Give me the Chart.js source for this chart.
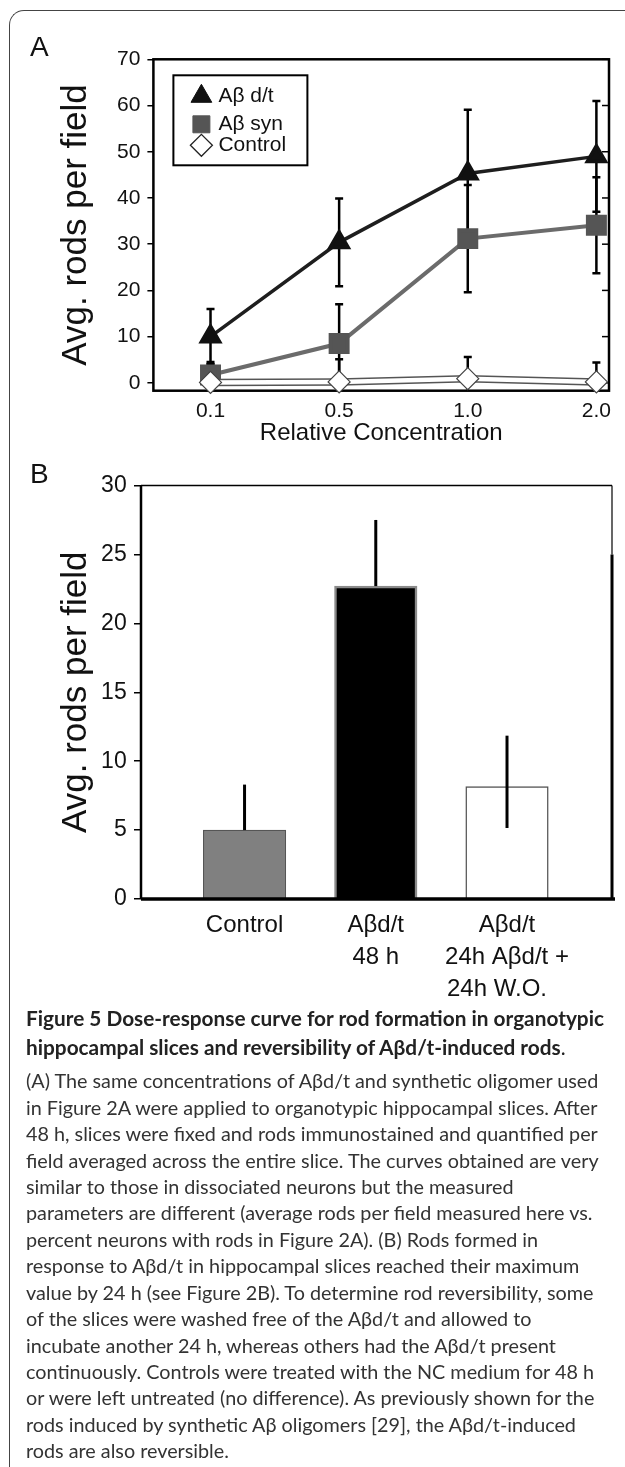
<!DOCTYPE html>
<html>
<head>
<meta charset="utf-8">
<script src="https://cdn.jsdelivr.net/npm/chart.js@4.4.1/dist/chart.umd.min.js"></script>
<style>
  html, body { margin: 0; padding: 0; background: #fff; }
  body { width: 625px; height: 1467px; position: relative; overflow: hidden; font-family: "Liberation Sans", Arial, sans-serif; }
  .frame { position: absolute; left: 9px; top: 10px; width: 700px; height: 1600px; border-top: 1.5px solid #444; border-left: 1.5px solid #444; border-top-left-radius: 15px; }
  canvas { position: absolute; left: 0; }
  #chartA { top: 0; }
  #chartB { top: 450px; }
  .panel { position: absolute; font-size: 28px; line-height: 28px; color: #111; }
  .caption { position: absolute; left: 26px; top: 1004px; font-family: Lato, "Open Sans", sans-serif; color: #333; white-space: nowrap; }
  .caption .title { font-weight: bold; font-size: 20.8px; line-height: 28.7px; color: #222; }
  .caption .body { font-size: 19.8px; line-height: 26.43px; margin-top: 5.8px; }
</style>
</head>
<body>
<div class="frame"></div>
<canvas id="chartA" width="625" height="450"></canvas>
<canvas id="chartB" width="625" height="560"></canvas>
<div class="panel" style="left:30px; top:33px;">A</div>
<div class="panel" style="left:30px; top:460px;">B</div>
<div class="caption">
  <div class="title">Figure 5 Dose-response curve for rod formation in organotypic<br>hippocampal slices and reversibility of Aβd/t-induced rods<span style="font-weight:normal">.</span></div>
  <div class="body">(A) The same concentrations of Aβd/t and synthetic oligomer used<br>
in Figure 2A were applied to organotypic hippocampal slices. After<br>
48 h, slices were fixed and rods immunostained and quantified per<br>
field averaged across the entire slice. The curves obtained are very<br>
similar to those in dissociated neurons but the measured<br>
parameters are different (average rods per field measured here vs.<br>
percent neurons with rods in Figure 2A). (B) Rods formed in<br>
response to Aβd/t in hippocampal slices reached their maximum<br>
value by 24 h (see Figure 2B). To determine rod reversibility, some<br>
of the slices were washed free of the Aβd/t and allowed to<br>
incubate another 24 h, whereas others had the Aβd/t present<br>
continuously. Controls were treated with the NC medium for 48 h<br>
or were left untreated (no difference). As previously shown for the<br>
rods induced by synthetic Aβ oligomers [29], the Aβd/t-induced<br>
rods are also reversible.</div>
</div>
<script>
// panel A: rods per field vs relative concentration
const concLabels = ['0.1', '0.5', '1.0', '2.0'];
const dtMean = [10, 30.4, 45.3, 49];
const dtErr = [6, 9.5, 13.8, 12];
const synMean = [1.7, 8.5, 31.2, 34.1];
const synErr = [2.8, 8.5, 11.6, 10.4];
const ctrlMean = [0.1, 0.2, 0.9, 0.2];
const ctrlErr = [4, 4.9, 4.7, 4.2];
const yTicksA = [0, 10, 20, 30, 40, 50, 60, 70];

// panel B: bars
const groupLabels = [['Control'], ['Aβd/t', '48 h'], ['Aβd/t', '24h Aβd/t +', '24h W.O.   ']];
const rodMean = [5.0, 22.7, 8.15];
const rodErrUp = [3.3, 4.8, 3.7];
const rodErrDown = [0, 0, 3.0];
const yTicksB = [0, 5, 10, 15, 20, 25, 30];

Chart.defaults.font.family = '"Liberation Sans", Arial, sans-serif';
Chart.defaults.color = '#111';

const pts = arr => arr.map((v, i) => ({x: i, y: v}));

// frame + inner right ticks for A
const frameA = {
    id: 'frameA',
    beforeDatasetsDraw(chart) {
        const {ctx, chartArea: a, scales: {y}} = chart;
        ctx.save();
        ctx.strokeStyle = '#000';
        ctx.lineWidth = 2.5;
        ctx.strokeRect(a.left, a.top, a.right - a.left, a.bottom - a.top);
        ctx.lineWidth = 1.5;
        yTicksA.forEach(v => {
            const py = y.getPixelForValue(v);
            ctx.beginPath();
            ctx.moveTo(a.right - 7, py);
            ctx.lineTo(a.right, py);
            ctx.stroke();
        });
        ctx.restore();
    }
};

// error bars for A, drawn behind the markers
const errorsA = {
    id: 'errorsA',
    beforeDatasetsDraw(chart) {
        const {ctx, scales: {x, y}} = chart;
        const sets = [[dtMean, dtErr], [synMean, synErr], [ctrlMean, ctrlErr]];
        ctx.save();
        ctx.strokeStyle = '#000';
        ctx.lineWidth = 2.5;
        sets.forEach(([m, e]) => {
            m.forEach((v, i) => {
                const px = x.getPixelForValue(i);
                const hi = v + e[i];
                const lo = Math.max(v - e[i], y.min);
                const pHi = y.getPixelForValue(hi);
                const pLo = y.getPixelForValue(lo);
                ctx.beginPath();
                ctx.moveTo(px, pHi);
                ctx.lineTo(px, pLo);
                ctx.moveTo(px - 4, pHi);
                ctx.lineTo(px + 4, pHi);
                if (lo > y.min) {
                    ctx.moveTo(px - 4, pLo);
                    ctx.lineTo(px + 4, pLo);
                }
                ctx.stroke();
            });
        });
        ctx.restore();
    }
};

// boxed legend inside the plot
const legendA = {
    id: 'legendA',
    afterDraw(chart) {
        const {ctx, chartArea: a} = chart;
        const bx = a.left + 20, by = a.top + 16, bw = 134, bh = 90;
        ctx.save();
        ctx.fillStyle = '#fff';
        ctx.fillRect(bx, by, bw, bh);
        ctx.strokeStyle = '#000';
        ctx.lineWidth = 2;
        ctx.strokeRect(bx, by, bw, bh);
        const items = [
            {text: 'Aβ d/t', dy: 21, style: 'triangle', r: 12, fill: '#111', stroke: '#111', bw: 1},
            {text: 'Aβ syn', dy: 49, style: 'rect', r: 12, fill: '#555', stroke: '#555', bw: 1},
            {text: 'Control', dy: 70, style: 'rectRot', r: 11, fill: '#fff', stroke: '#222', bw: 1.3}
        ];
        ctx.font = '21px "Liberation Sans", Arial, sans-serif';
        ctx.textBaseline = 'middle';
        items.forEach(it => {
            ctx.fillStyle = it.fill;
            ctx.strokeStyle = it.stroke;
            ctx.lineWidth = it.bw;
            Chart.helpers.drawPoint(ctx, {pointStyle: it.style, radius: it.r, borderWidth: it.bw, rotation: 0}, bx + 28, by + it.dy);
            ctx.fillStyle = '#111';
            ctx.fillText(it.text, bx + 45, by + it.dy);
        });
        ctx.restore();
    }
};

new Chart(document.getElementById('chartA'), {
    type: 'line',
    data: {
        datasets: [
            {
                label: 'Control',
                data: pts(ctrlMean),
                borderColor: '#fff',
                borderWidth: 4.5,
                pointStyle: 'rectRot',
                pointRadius: 11,
                pointBackgroundColor: '#fff',
                pointBorderColor: '#444',
                pointBorderWidth: 1.2,
                clip: false
            },
            {
                label: 'Control outline',
                data: pts(ctrlMean),
                borderColor: '#555',
                borderWidth: 7.5,
                pointRadius: 0,
                clip: false
            },
            {
                label: 'Aβ d/t',
                data: pts(dtMean),
                borderColor: '#1e1e1e',
                borderWidth: 3.5,
                pointStyle: 'triangle',
                pointRadius: 10.5,
                pointBackgroundColor: '#111',
                pointBorderColor: '#111',
                clip: false
            },
            {
                label: 'Aβ syn',
                data: pts(synMean),
                borderColor: '#6b6b6b',
                borderWidth: 4,
                pointStyle: 'rect',
                pointRadius: 12,
                pointBackgroundColor: '#555',
                pointBorderColor: '#555',
                clip: false
            }
        ]
    },
    options: {
        responsive: false,
        animation: false,
        layout: {padding: {left: 0, top: 59.3, right: 10.5, bottom: 0}},
        plugins: {legend: {display: false}, tooltip: {enabled: false}},
        scales: {
            x: {
                type: 'linear',
                min: -0.444,
                max: 3.098,
                afterBuildTicks: s => { s.ticks = concLabels.map((l, i) => ({value: i})); },
                afterFit: s => { s.height = 59.3; },
                grid: {display: false, drawTicks: false},
                border: {display: false},
                ticks: {callback: v => concLabels[v], font: {size: 21}, padding: 7.5, maxRotation: 0, autoSkip: false},
                title: {display: true, text: 'Relative Concentration', font: {size: 24}, padding: {top: 0, bottom: 2.5}}
            },
            y: {
                min: -1.7,
                max: 70,
                afterBuildTicks: s => { s.ticks = yTicksA.map(v => ({value: v})); },
                afterFit: s => { s.width = 153.4; },
                grid: {drawOnChartArea: false, drawTicks: true, tickLength: 6, color: '#000', lineWidth: 1.5},
                border: {display: false},
                ticks: {font: {size: 21}, padding: 7},
                title: {display: true, text: 'Avg. rods per field', font: {size: 35}, padding: {top: 55, bottom: 0}}
            }
        }
    },
    plugins: [frameA, errorsA, legendA]
});

// axes frame for B (right side thin at top, thick below 25)
const frameB = {
    id: 'frameB',
    afterDatasetsDraw(chart) {
        const {ctx, chartArea: a, scales: {y}} = chart;
        const p25 = y.getPixelForValue(yTicksB[5]);
        ctx.save();
        ctx.strokeStyle = '#000';
        ctx.lineWidth = 1.5;
        ctx.beginPath(); ctx.moveTo(a.left, a.top); ctx.lineTo(a.right, a.top); ctx.stroke();
        ctx.lineWidth = 1.2;
        ctx.beginPath(); ctx.moveTo(a.right, a.top); ctx.lineTo(a.right, p25); ctx.stroke();
        ctx.lineWidth = 3;
        ctx.beginPath(); ctx.moveTo(a.right, p25); ctx.lineTo(a.right, a.bottom); ctx.stroke();
        ctx.lineWidth = 2.5;
        ctx.beginPath(); ctx.moveTo(a.left, a.top); ctx.lineTo(a.left, a.bottom); ctx.stroke();
        ctx.lineWidth = 3.5;
        ctx.beginPath(); ctx.moveTo(a.left, a.bottom); ctx.lineTo(a.right + 3, a.bottom); ctx.stroke();
        ctx.restore();
    }
};

const errorsB = {
    id: 'errorsB',
    afterDatasetsDraw(chart) {
        const {ctx, scales: {x, y}} = chart;
        ctx.save();
        ctx.strokeStyle = '#000';
        ctx.lineWidth = 3;
        rodMean.forEach((v, i) => {
            const px = x.getPixelForValue(i);
            ctx.beginPath();
            ctx.moveTo(px, y.getPixelForValue(v + rodErrUp[i]));
            ctx.lineTo(px, y.getPixelForValue(v - rodErrDown[i]));
            ctx.stroke();
        });
        ctx.restore();
    }
};

new Chart(document.getElementById('chartB'), {
    type: 'bar',
    data: {
        datasets: [{
            data: pts(rodMean),
            backgroundColor: ['#808080', '#000', '#fff'],
            borderColor: ['#555', '#8a8a8a', '#555'],
            borderWidth: [1.2, 2.5, 1.5],
            barThickness: 82.5
        }]
    },
    options: {
        responsive: false,
        animation: false,
        layout: {padding: {left: 0, top: 35.5, right: 13, bottom: 0}},
        plugins: {legend: {display: false}, tooltip: {enabled: false}},
        scales: {
            x: {
                type: 'linear',
                min: -0.789,
                max: 2.8,
                offset: false,
                afterBuildTicks: s => { s.ticks = groupLabels.map((l, i) => ({value: i})); },
                afterFit: s => { s.height = 111; },
                grid: {display: false, drawTicks: false, offset: false},
                border: {display: false},
                ticks: {callback: v => groupLabels[v], font: {size: 24, lineHeight: 1.35}, padding: 9.8, maxRotation: 0, autoSkip: false}
            },
            y: {
                min: 0,
                max: 30,
                afterBuildTicks: s => { s.ticks = yTicksB.map(v => ({value: v})); },
                afterFit: s => { s.width = 141; },
                grid: {drawOnChartArea: false, drawTicks: true, tickLength: 7, color: '#000', lineWidth: 1.5},
                border: {display: false},
                ticks: {font: {size: 23}, padding: 7.3},
                title: {display: true, text: 'Avg. rods per field', font: {size: 35}, padding: {top: 55, bottom: 0}}
            }
        }
    },
    plugins: [frameB, errorsB]
});
</script>
</body>
</html>
